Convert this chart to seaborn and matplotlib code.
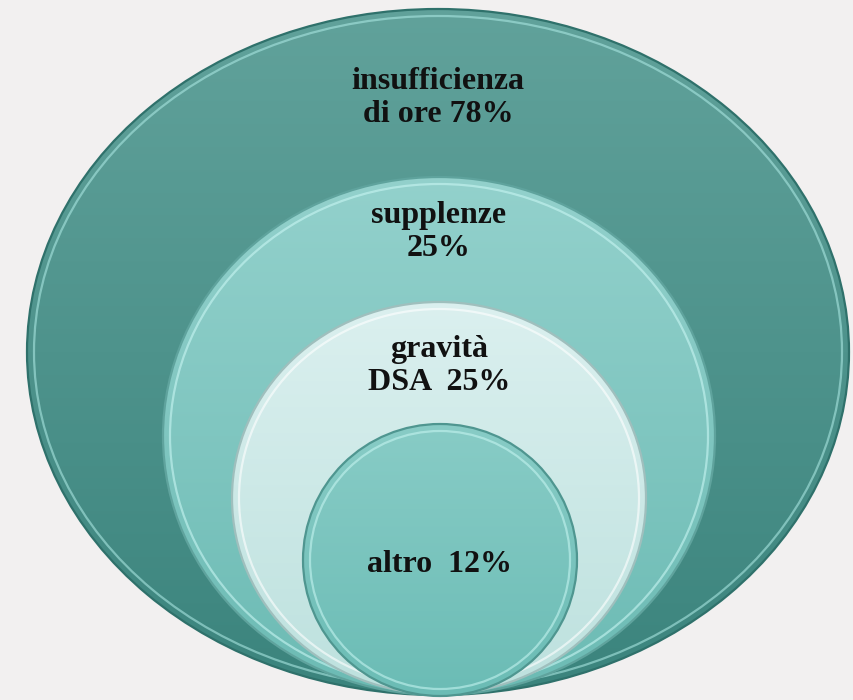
import numpy as np
import matplotlib.pyplot as plt
import seaborn as sns
from matplotlib.patches import Ellipse
from matplotlib.colors import LinearSegmentedColormap


# ===================================
# Data
# ===================================
LABELS  = ['insufficienza\ndi ore', 'supplenze\n', 'gravità\nDSA ', 'altro ']
PERCENT = [78, 25, 25, 12]

# ===================================
# Layout (pixel coords, origin top-left)
# ===================================
W, H = 854, 700
# centre x, centre y, width, height
SHAPES = [
    (438, 352, 822, 686),
    (439, 436, 552, 518),
    (439, 498, 414, 392),
    (440, 560, 274, 272),
]
TEXT_Y = [98, 232, 366, 565]
GRAD = [
    ('#61a29b', '#3b847d'),
    ('#93d1cc', '#6cbbb4'),
    ('#dbf0ef', '#bde1de'),
    ('#88ccc6', '#6bbcb5'),
]
EDGE = ['#2f716b', '#5fa39d', '#9fbfbd', '#4f9690']
RIM  = ['#a9e6e1', '#c8f6f3', '#ffffff', '#c4f4f0']
BG   = '#f2f0f0'


def draw_shape(ax, cx, cy, w, h, top, bottom, edge, rim):
    ell = Ellipse((cx, cy), w, h, facecolor='none', edgecolor='none')
    ax.add_patch(ell)
    cmap = LinearSegmentedColormap.from_list('g', [top, bottom])
    grad = np.linspace(0, 1, 256).reshape(-1, 1)
    im = ax.imshow(grad, cmap=cmap, aspect='auto',
                   extent=(cx - w / 2, cx + w / 2, cy + h / 2, cy - h / 2),
                   zorder=ell.get_zorder())
    im.set_clip_path(ell)
    # inner light rim + dark outline
    ax.add_patch(Ellipse((cx, cy), w - 14, h - 14, facecolor='none',
                         edgecolor=rim, lw=1.6, alpha=0.6))
    ax.add_patch(Ellipse((cx, cy), w, h, facecolor='none',
                         edgecolor=edge, lw=1.6))


sns.set_theme(style='white')
plt.rcParams['font.family'] = ['Liberation Serif', 'DejaVu Serif']

fig = plt.figure(figsize=(W / 100, H / 100), dpi=100)
fig.patch.set_facecolor(BG)
ax = fig.add_axes([0, 0, 1, 1])
ax.set_facecolor(BG)
ax.set_xlim(0, W)
ax.set_ylim(H, 0)
ax.axis('off')

for (cx, cy, w, h), (top, bottom), edge, rim in zip(SHAPES, GRAD, EDGE, RIM):
    draw_shape(ax, cx, cy, w, h, top, bottom, edge, rim)

for lab, pct, (cx, _, _, _), ty in zip(LABELS, PERCENT, SHAPES, TEXT_Y):
    txt = f'{lab} {pct}%'.replace('\n ', '\n')
    ax.text(cx, ty, txt, ha='center', va='center', multialignment='center',
            fontsize=23, fontweight='bold', color='#111111',
            linespacing=1.15, zorder=10)

ax.set_xlim(0, W)
ax.set_ylim(H, 0)
fig.savefig('out.png', dpi=100, facecolor=BG)
plt.close()
